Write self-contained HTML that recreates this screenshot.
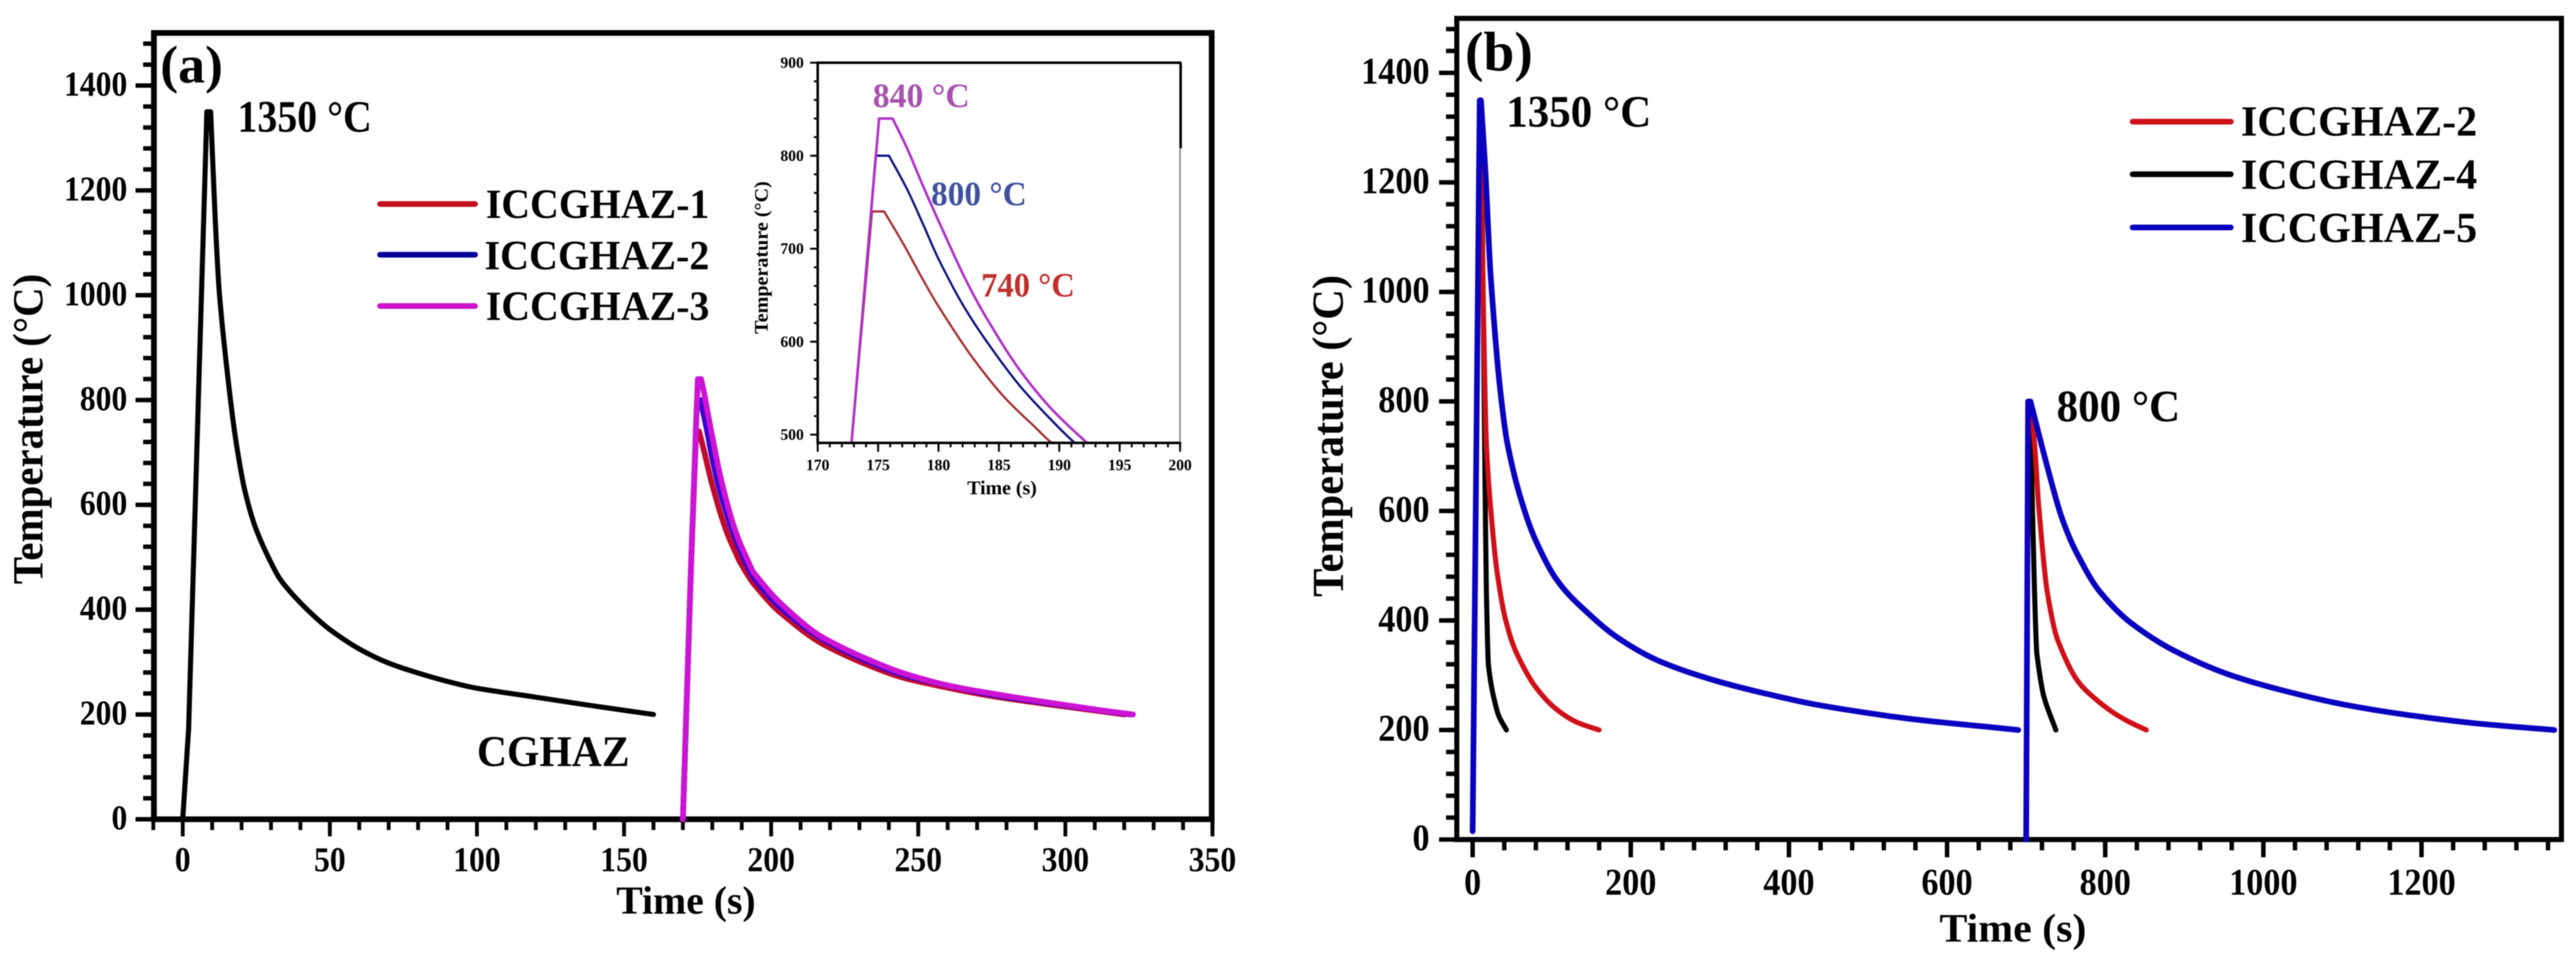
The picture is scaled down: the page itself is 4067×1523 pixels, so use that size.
<!DOCTYPE html>
<html lang="en">
<head>
<meta charset="utf-8">
<title>Thermal cycles of CGHAZ and ICCGHAZ</title>
<style>
html,body{margin:0;padding:0;background:#fff;width:4067px;height:1523px;overflow:hidden}
svg{display:block;filter:blur(0.8px)}
text{font-family:"Liberation Serif",serif;font-weight:bold;fill:#000}
</style>
</head>
<body>
<svg id="figure" xmlns="http://www.w3.org/2000/svg" width="4067" height="1523" viewBox="0 0 4067 1523">
  <defs>
    <clipPath id="inset-clip"><rect x="1291" y="99" width="572" height="600"/></clipPath>
  </defs>
  <rect x="0" y="0" width="4067" height="1523" fill="#fff"/>

  <g id="panel-a">
    <rect x="243" y="52" width="1670" height="1241" fill="none" stroke="#000" stroke-width="9"/>
    <g id="a-axes"></g>
    <g id="a-series"></g>
    <text x="253" y="130" font-size="84" textLength="99" lengthAdjust="spacingAndGlyphs">(a)</text>
    <text x="375" y="208" font-size="71" textLength="212" lengthAdjust="spacingAndGlyphs">1350 °C</text>
    <text x="753" y="1209" font-size="69" textLength="241" lengthAdjust="spacingAndGlyphs">CGHAZ</text>
    <text x="973" y="1442" font-size="62" textLength="220" lengthAdjust="spacingAndGlyphs">Time (s)</text>
    <text transform="translate(67,922) rotate(-90)" x="0" y="0" font-size="68" textLength="490" lengthAdjust="spacingAndGlyphs">Temperature (°C)</text>

    <line x1="600" y1="322" x2="750" y2="322" stroke="#c0101c" stroke-width="9" stroke-linecap="round"/>
    <text x="767" y="344" font-size="66" textLength="353" lengthAdjust="spacingAndGlyphs">ICCGHAZ-1</text>
    <line x1="600" y1="402" x2="750" y2="402" stroke="#08009c" stroke-width="9" stroke-linecap="round"/>
    <text x="765" y="425" font-size="66" textLength="355" lengthAdjust="spacingAndGlyphs">ICCGHAZ-2</text>
    <line x1="600" y1="483" x2="750" y2="483" stroke="#cc14c8" stroke-width="9" stroke-linecap="round"/>
    <text x="767" y="505" font-size="66" textLength="353" lengthAdjust="spacingAndGlyphs">ICCGHAZ-3</text>

    <g id="inset">
      <g id="inset-axes"></g>
      <g id="inset-series" clip-path="url(#inset-clip)"></g>
      <line x1="1291" y1="97" x2="1291" y2="701" stroke="#000" stroke-width="4"/>
      <line x1="1289" y1="699" x2="1865" y2="699" stroke="#000" stroke-width="4"/>
      <line x1="1289" y1="99" x2="1865" y2="99" stroke="#000" stroke-width="4"/>
      <line x1="1864" y1="99" x2="1864" y2="234" stroke="#000" stroke-width="4"/>
      <line x1="1863" y1="234" x2="1863" y2="699" stroke="#444" stroke-width="1.5"/>
      <text x="1527" y="780" font-size="31" textLength="110" lengthAdjust="spacingAndGlyphs">Time (s)</text>
      <text transform="translate(1212,527) rotate(-90)" x="0" y="0" font-size="31" textLength="241" lengthAdjust="spacingAndGlyphs">Temperature (°C)</text>
      <text x="1378" y="169" font-size="54" textLength="153" lengthAdjust="spacingAndGlyphs" style="fill:#a850b0">840 °C</text>
      <text x="1470" y="324" font-size="54" textLength="151" lengthAdjust="spacingAndGlyphs" style="fill:#4050a0">800 °C</text>
      <text x="1549" y="468" font-size="54" textLength="148" lengthAdjust="spacingAndGlyphs" style="fill:#c03030">740 °C</text>
    </g>
  </g>

  <g id="panel-b">
    <rect x="2300" y="29" width="1744" height="1296" fill="none" stroke="#000" stroke-width="8"/>
    <g id="b-axes"></g>
    <g id="b-series"></g>
    <text x="2313" y="111" font-size="88" textLength="107" lengthAdjust="spacingAndGlyphs">(b)</text>
    <text x="2378" y="200" font-size="71" textLength="229" lengthAdjust="spacingAndGlyphs">1350 °C</text>
    <text x="3247" y="665" font-size="71" textLength="195" lengthAdjust="spacingAndGlyphs">800 °C</text>
    <text x="3062" y="1486" font-size="64" textLength="232" lengthAdjust="spacingAndGlyphs">Time (s)</text>
    <text transform="translate(2120,942) rotate(-90)" x="0" y="0" font-size="70" textLength="508" lengthAdjust="spacingAndGlyphs">Temperature (°C)</text>

    <line x1="3367" y1="192" x2="3522" y2="192" stroke="#d01018" stroke-width="9" stroke-linecap="round"/>
    <text x="3538" y="214" font-size="68" textLength="373" lengthAdjust="spacingAndGlyphs">ICCGHAZ-2</text>
    <line x1="3367" y1="275" x2="3522" y2="275" stroke="#000" stroke-width="9" stroke-linecap="round"/>
    <text x="3538" y="298" font-size="68" textLength="373" lengthAdjust="spacingAndGlyphs">ICCGHAZ-4</text>
    <line x1="3367" y1="359" x2="3522" y2="359" stroke="#0a00c0" stroke-width="9" stroke-linecap="round"/>
    <text x="3538" y="382" font-size="68" textLength="373" lengthAdjust="spacingAndGlyphs">ICCGHAZ-5</text>
  </g>
</svg>

<script>
// ---------- Panel (a) data ----------
const cghazTime = [0,2,8.2,9.5,11,12.5,15.2,18,21,24.5,28.6,33,38,44,50,60,70,80,90,100,120,140,160];
const cghazTemp = [0,173,1350,1350,1150,1000,850,725,630,560,506,459,425,391,362,325,298,279,263,250,233,216,200];
const icc1Time = [170,172.8,174.5,175.5,177.1,178.7,180,182.7,185.4,188,189.4,194,203,218,239,250,275,300,320];
const icc1Temp = [0,491,740,740,705,667,638,585,541,508,491,450,395,333,281,263,235,215,200];
const icc2Time = [170,172.8,174.8,175.9,177.4,178.7,180,182,184,186.7,189.4,191.3,194,203,218,239,250,275,300,322];
const icc2Temp = [0,491,800,800,764,727,689,640,600,553,515,491,462,405,342,287,268,238,217,200];
const icc3Time = [170,172.8,175.08,176.2,177.4,178.7,180,182.2,184,186.7,189.4,192.3,194,203.4,217.8,239.3,250,262,275,287,300,312,323];
const icc3Temp = [0,491,840,840,808,768,730,668,625,570,527,491,471,411,346,290,270,253,240,229,218,208,200];
const aXTicks = [0,50,100,150,200,250,300,350];
const aYTicks = [0,200,400,600,800,1000,1200,1400];
const insetXTicks = [170,175,180,185,190,195,200];
const insetYTicks = [500,600,700,800,900];

// ---------- Panel (b) data ----------
const b2Cycle1Time = [0,9,10.5,12.2,17.4,22.7,30.6,41.4,55,78.9,105,132,160];
const b2Cycle1Temp = [15,1350,1350,1090,723,607,492,403,342,280,239,214,200];
const b2Cycle2Time = [700,702.5,705,710.6,716,726.6,740,764,785,810,830,852];
const b2Cycle2Temp = [0,800,800,723,607,453,364,292,260,232,215,200];
const b4Cycle1Time = [0,9,10.5,14,16,17.4,20,25.4,33,42.7];
const b4Cycle1Temp = [15,1350,1350,900,607,453,318,268,226,200];
const b4Cycle2Time = [700,702.5,705,708,710.6,713.6,722.6,737.6];
const b4Cycle2Temp = [0,800,800,600,453,338,260,200];
const b5Cycle1Time = [0,9,10.5,16,22.7,33.6,44,60,78.6,105,132,185,239,305,372,432,500,550,600,650,690];
const b5Cycle1Temp = [15,1350,1350,1224,1032,839,723,627,550,477,432,367,324,291,266,247,231,221,213,206,200];
const b5Cycle2Time = [700,702.5,705.5,726,745,764,793,833,887,953,1020,1100,1180,1270,1368];
const b5Cycle2Temp = [0,800,800,685,588,523,453,395,345,303,274,247,228,212,200];
const bXTicks = [0,200,400,600,800,1000,1200];
const bYTicks = [0,200,400,600,800,1000,1200,1400];

// ---------- Axis functions ----------
function axX(t){return 288.5+4.645*t;}
function ayY(v){return 1293-0.8271*v;}
function ixX(t){return 1291+19.07*(t-170);}
function iyY(v){return 686-1.4675*(v-500);}
function bxX(t){return 2325+1.2484*t;}
function byY(v){return 1325-0.8643*v;}

const NS = 'http://www.w3.org/2000/svg';

// Straight heating ramp and plateau, then a smooth monotone curve through the cooling readings.
function curvePath(ts, vs, sx, sy){
  const xs = ts.map(sx);
  const ys = vs.map(sy);
  const peakEnd = vs.lastIndexOf(Math.max.apply(null, vs));
  let d = 'M' + xs[0].toFixed(1) + ' ' + ys[0].toFixed(1);
  for(let i=1;i<=peakEnd;i++){
    d += 'L' + xs[i].toFixed(1) + ' ' + ys[i].toFixed(1);
  }
  const n = xs.length;
  const secant = [];
  for(let i=peakEnd;i<n-1;i++){
    secant[i] = (ys[i+1]-ys[i])/(xs[i+1]-xs[i]);
  }
  const slope = [];
  slope[peakEnd] = secant[peakEnd];
  slope[n-1] = secant[n-2];
  for(let i=peakEnd+1;i<n-1;i++){
    const a = secant[i-1];
    const b = secant[i];
    const ha = xs[i]-xs[i-1];
    const hb = xs[i+1]-xs[i];
    slope[i] = (a*b<=0) ? 0 : (ha+hb)/(ha/a+hb/b);
  }
  for(let i=peakEnd;i<n-1;i++){
    const h = (xs[i+1]-xs[i])/3;
    d += 'C' + (xs[i]+h).toFixed(1) + ' ' + (ys[i]+slope[i]*h).toFixed(1) + ' '
       + (xs[i+1]-h).toFixed(1) + ' ' + (ys[i+1]-slope[i+1]*h).toFixed(1) + ' '
       + xs[i+1].toFixed(1) + ' ' + ys[i+1].toFixed(1);
  }
  return d;
}

function drawCurve(parentId, name, ts, vs, sx, sy, color, width){
  const el = document.createElementNS(NS,'path');
  
  
  el.setAttribute('d', curvePath(ts, vs, sx, sy));
  el.setAttribute('fill','none');
  el.setAttribute('stroke',color);
  el.setAttribute('stroke-width',width);
  el.setAttribute('stroke-linejoin','round');
  el.setAttribute('stroke-linecap','round');
  document.getElementById(parentId).appendChild(el);
}

function drawTick(parentId, name, x1, y1, x2, y2, width){
  const el = document.createElementNS(NS,'line');
  
  
  el.setAttribute('x1',x1);
  el.setAttribute('y1',y1);
  el.setAttribute('x2',x2);
  el.setAttribute('y2',y2);
  el.setAttribute('stroke','#000');
  el.setAttribute('stroke-width',width);
  document.getElementById(parentId).appendChild(el);
}

function drawLabel(parentId, name, str, x, y, anchor, size, digitW){
  const el = document.createElementNS(NS,'text');
  
  
  const w = String(str).length*digitW;
  el.setAttribute('x', anchor==='end' ? x-w : x-w/2);
  el.setAttribute('y', y);
  el.setAttribute('font-size', size);
  el.setAttribute('textLength', w);
  el.setAttribute('lengthAdjust','spacingAndGlyphs');
  el.textContent = str;
  document.getElementById(parentId).appendChild(el);
}

// ---------- Panel (a) axes ----------
for(let t=-10;t<=350;t+=10){
  drawTick('a-axes','x-minor-tick-a',axX(t),1293,axX(t),1310,6);
}
aXTicks.forEach(t=>{
  drawTick('a-axes','x-major-tick-a',axX(t),1293,axX(t),1320,6);
  drawLabel('a-axes','x-tick-label-a',t,axX(t),1375,'middle',55,25);
});
for(let v=40;v<=1480;v+=40){
  drawTick('a-axes','y-minor-tick-a',226,ayY(v),243,ayY(v),7);
}
aYTicks.forEach(v=>{
  drawTick('a-axes','y-major-tick-a',214,ayY(v),243,ayY(v),7);
  drawLabel('a-axes','y-tick-label-a',v,201,ayY(v)+16,'end',55,25);
});

// ---------- Panel (a) series ----------
drawCurve('a-series','series-cghaz',cghazTime,cghazTemp,axX,ayY,'#000',8);
drawCurve('a-series','series-iccghaz-1',icc1Time,icc1Temp,axX,ayY,'#c00a30',9);
drawCurve('a-series','series-iccghaz-2',icc2Time,icc2Temp,axX,ayY,'#3a00d0',9);
drawCurve('a-series','series-iccghaz-3',icc3Time,icc3Temp,axX,ayY,'#cc14d4',9);

// ---------- Inset axes and series ----------
for(let t=170;t<=200;t+=1){
  drawTick('inset-axes','inset-x-minor-tick',ixX(t),699,ixX(t),706,3);
}
insetXTicks.forEach(t=>{
  drawTick('inset-axes','inset-x-major-tick',ixX(t),699,ixX(t),713,3);
  drawLabel('inset-axes','inset-x-tick-label',t,ixX(t),742,'middle',25,12.3);
});
for(let v=500;v<=900;v+=20){
  drawTick('inset-axes','inset-y-minor-tick',1285,iyY(v),1291,iyY(v),3);
}
insetYTicks.forEach(v=>{
  drawTick('inset-axes','inset-y-major-tick',1279,iyY(v),1291,iyY(v),3);
  drawLabel('inset-axes','inset-y-tick-label',v,1269,iyY(v)+8,'end',25,12.3);
});
drawCurve('inset-series','inset-series-iccghaz-1',icc1Time,icc1Temp,ixX,iyY,'#a83030',3.5);
drawCurve('inset-series','inset-series-iccghaz-2',icc2Time,icc2Temp,ixX,iyY,'#101080',3.5);
drawCurve('inset-series','inset-series-iccghaz-3',icc3Time,icc3Temp,ixX,iyY,'#b030c8',4);

// ---------- Panel (b) axes ----------
for(let t=0;t<=1360;t+=40){
  drawTick('b-axes','x-minor-tick-b',bxX(t),1325,bxX(t),1342,7);
}
bXTicks.forEach(t=>{
  drawTick('b-axes','x-major-tick-b',bxX(t),1325,bxX(t),1353,7);
  drawLabel('b-axes','x-tick-label-b',t,bxX(t),1412,'middle',59,27);
});
for(let v=40;v<=1480;v+=40){
  drawTick('b-axes','y-minor-tick-b',2283,byY(v),2300,byY(v),7);
}
bYTicks.forEach(v=>{
  drawTick('b-axes','y-major-tick-b',2272,byY(v),2300,byY(v),7);
  drawLabel('b-axes','y-tick-label-b',v,2257,byY(v)+17,'end',59,27);
});

// ---------- Panel (b) series ----------
drawCurve('b-series','series-b-iccghaz-4-cycle-1',b4Cycle1Time,b4Cycle1Temp,bxX,byY,'#000',8);
drawCurve('b-series','series-b-iccghaz-4-cycle-2',b4Cycle2Time,b4Cycle2Temp,bxX,byY,'#000',8);
drawCurve('b-series','series-b-iccghaz-2-cycle-1',b2Cycle1Time,b2Cycle1Temp,bxX,byY,'#d01018',8);
drawCurve('b-series','series-b-iccghaz-2-cycle-2',b2Cycle2Time,b2Cycle2Temp,bxX,byY,'#d01018',8);
drawCurve('b-series','series-b-iccghaz-5-cycle-1',b5Cycle1Time,b5Cycle1Temp,bxX,byY,'#0a00c0',9);
drawCurve('b-series','series-b-iccghaz-5-cycle-2',b5Cycle2Time,b5Cycle2Temp,bxX,byY,'#0a00c0',9);
</script>
</body>
</html>
